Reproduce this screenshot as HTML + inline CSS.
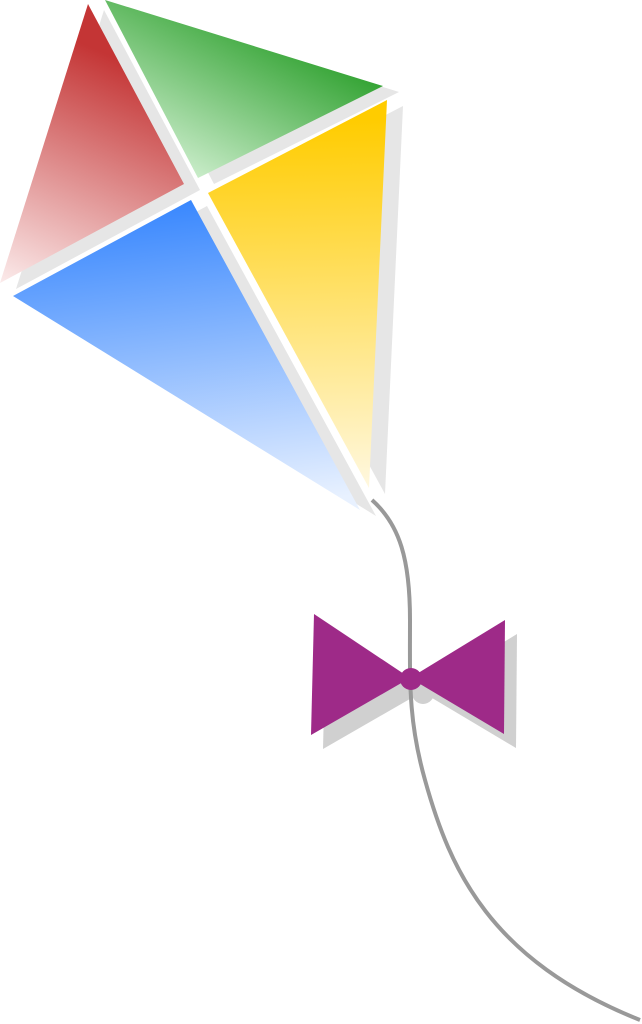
<!DOCTYPE html>
<html><head><meta charset="utf-8"><style>html,body{margin:0;padding:0;background:#fff}svg{display:block}</style></head>
<body>
<svg width="642" height="1024" viewBox="0 0 642 1024" xmlns="http://www.w3.org/2000/svg">
<defs>
<linearGradient id="gr" x1="120" y1="60" x2="20" y2="290" gradientUnits="userSpaceOnUse">
<stop offset="0" stop-color="#c43535"/><stop offset="1" stop-color="#fbeaea"/></linearGradient>
<linearGradient id="gg" x1="300" y1="40" x2="220" y2="190" gradientUnits="userSpaceOnUse">
<stop offset="0" stop-color="#33a333"/><stop offset="1" stop-color="#c9ecc9"/></linearGradient>
<linearGradient id="gy" x1="330" y1="120" x2="340" y2="490" gradientUnits="userSpaceOnUse">
<stop offset="0" stop-color="#ffcc00"/><stop offset="1" stop-color="#fff8e0"/></linearGradient>
<linearGradient id="gb" x1="200" y1="200" x2="240" y2="510" gradientUnits="userSpaceOnUse">
<stop offset="0" stop-color="#3a88fe"/><stop offset="1" stop-color="#e8f1ff"/></linearGradient>
</defs>
<g fill="#e6e6e6" transform="translate(16,6)">
<polygon points="88,4 0,283 184,184"/>
<polygon points="105,0 383,86 198,178"/>
<polygon points="387,100 208,193 369,488"/>
<polygon points="191,200 13,296 360,510"/>
</g>
<polygon points="88,4 0,283 184,184" fill="url(#gr)"/>
<polygon points="105,0 383,86 198,178" fill="url(#gg)"/>
<polygon points="387,100 208,193 369,488" fill="url(#gy)"/>
<polygon points="191,200 13,296 360,510" fill="url(#gb)"/>
<g fill="#d0d0d0" transform="translate(12,14)">
<polygon points="314,614 311,735 410,678"/>
<polygon points="505,620 504,734 410,678"/>
<circle cx="411" cy="679" r="11"/>
</g>
<path d="M372,500 C400,525 410,560 410,620 C410,680 408,720 425,780 C450,870 490,960 640,1020" fill="none" stroke="#999" stroke-width="4"/>
<g fill="#9e2a88">
<polygon points="314,614 311,735 410,678"/>
<polygon points="505,620 504,734 410,678"/>
<circle cx="411" cy="679" r="11"/>
</g>
</svg>
</body></html>
